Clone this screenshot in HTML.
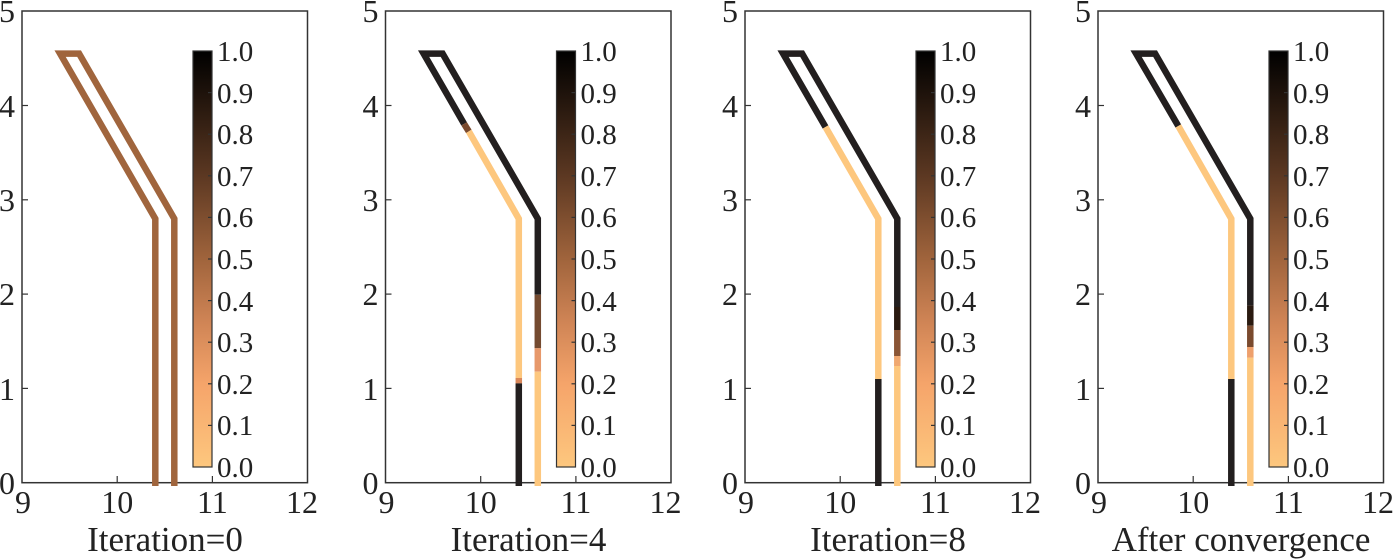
<!DOCTYPE html>
<html><head><meta charset="utf-8"><style>
html,body{margin:0;padding:0;background:#fff;}
svg{display:block;}
text{font-family:"Liberation Serif","Times New Roman","DejaVu Serif",serif;}
</style></head><body>
<svg width="1399" height="559" viewBox="0 0 1399 559" xmlns="http://www.w3.org/2000/svg" font-family="Liberation Serif, Times New Roman, DejaVu Serif, serif">
<defs>
<linearGradient id="cb" x1="0" y1="1" x2="0" y2="0">
<stop offset="0" stop-color="#fdc77e"/>
<stop offset="0.2" stop-color="#f5a46a"/>
<stop offset="0.35" stop-color="#cf8455"/>
<stop offset="0.5" stop-color="#a0643c"/>
<stop offset="0.7" stop-color="#5c3822"/>
<stop offset="0.88" stop-color="#24160d"/>
<stop offset="1" stop-color="#000"/>
</linearGradient>
<g id="axes">
<rect x="0" y="11" width="285.5" height="471.7" fill="none" stroke="#333" stroke-width="1.5"/>
<g stroke="#333" stroke-width="1.2">
<line x1="95.2" y1="482.7" x2="95.2" y2="476"/><line x1="190.4" y1="482.7" x2="190.4" y2="476"/>
<line x1="0" y1="105.5" x2="6" y2="105.5"/><line x1="0" y1="199.8" x2="6" y2="199.8"/><line x1="0" y1="294.1" x2="6" y2="294.1"/><line x1="0" y1="388.4" x2="6" y2="388.4"/>
</g>
<g font-size="32" fill="#222" text-anchor="end" font-family="Liberation Serif, Times New Roman, serif">
<text x="-7" y="22">5</text><text x="-7" y="117">4</text><text x="-7" y="211">3</text><text x="-7" y="305">2</text><text x="-7" y="400">1</text><text x="-7" y="494">0</text>
</g>
<g font-size="32" fill="#222" text-anchor="middle" font-family="Liberation Serif, Times New Roman, serif">
<text x="1" y="513">9</text><text x="95.2" y="513">10</text><text x="190.4" y="513">11</text><text x="280" y="513">12</text>
</g>
<rect x="171" y="51" width="19" height="416" fill="url(#cb)" stroke="#333" stroke-width="1.2"/>
<g stroke="#333" stroke-width="1.2">
<line x1="186" y1="92.6" x2="190" y2="92.6"/><line x1="186" y1="134.2" x2="190" y2="134.2"/><line x1="186" y1="175.8" x2="190" y2="175.8"/><line x1="186" y1="217.4" x2="190" y2="217.4"/><line x1="186" y1="259" x2="190" y2="259"/><line x1="186" y1="300.6" x2="190" y2="300.6"/><line x1="186" y1="342.2" x2="190" y2="342.2"/><line x1="186" y1="383.8" x2="190" y2="383.8"/><line x1="186" y1="425.4" x2="190" y2="425.4"/>
</g>
<g font-size="29" fill="#222" font-family="Liberation Serif, Times New Roman, serif">
<text x="195" y="61">1.0</text><text x="195" y="103">0.9</text><text x="195" y="144">0.8</text><text x="195" y="186">0.7</text><text x="195" y="227">0.6</text><text x="195" y="269">0.5</text><text x="195" y="311">0.4</text><text x="195" y="352">0.3</text><text x="195" y="394">0.2</text><text x="195" y="435">0.1</text><text x="195" y="477">0.0</text>
</g>
</g>
</defs>

<!-- Panel 1 -->
<g transform="translate(22,0)">
<use href="#axes"/>
<polyline points="133.3,486 133.3,218.7 38.1,53.6 57.1,53.6 152.3,218.7 152.3,486" fill="none" stroke="#a0653d" stroke-width="6.5"/>
<text x="143" y="551" font-size="35" fill="#222" text-anchor="middle" font-family="Liberation Serif, Times New Roman, serif">Iteration=0</text>
</g>

<!-- Panel 2 -->
<g transform="translate(385.5,0)">
<use href="#axes"/>
<g fill="none" stroke-width="6.5">
<polyline points="78.6,123.9 38.1,53.6 57.1,53.6 152.3,218.7 152.3,294.8" stroke="#231f1f"/>
<line x1="78.6" y1="123.9" x2="83.3" y2="131.4" stroke="#7a4a2e"/>
<polyline points="83.3,131.4 133.3,218.7 133.3,378" stroke="#fdc77e"/>
<line x1="133.3" y1="378" x2="133.3" y2="383.4" stroke="#d9875a"/>
<line x1="133.3" y1="383.4" x2="133.3" y2="486" stroke="#231f1f"/>
<line x1="152.3" y1="294.8" x2="152.3" y2="348.2" stroke="#744a30"/>
<line x1="152.3" y1="348.2" x2="152.3" y2="371.7" stroke="#e7986a"/>
<line x1="152.3" y1="371.7" x2="152.3" y2="486" stroke="#fdc77e"/>
</g>
<text x="143" y="551" font-size="35" fill="#222" text-anchor="middle" font-family="Liberation Serif, Times New Roman, serif">Iteration=4</text>
</g>

<!-- Panel 3 -->
<g transform="translate(745,0)">
<use href="#axes"/>
<g fill="none" stroke-width="6.5">
<polyline points="80.5,127 38.1,53.6 57.1,53.6 152.3,218.7 152.3,307" stroke="#231f1f"/>
<polyline points="80.5,127 133.3,218.7 133.3,379" stroke="#fdc77e"/>
<line x1="133.3" y1="379" x2="133.3" y2="486" stroke="#231f1f"/>
<line x1="152.3" y1="307" x2="152.3" y2="330" stroke="#2a1a10"/>
<line x1="152.3" y1="330" x2="152.3" y2="356" stroke="#8a5535"/>
<line x1="152.3" y1="356" x2="152.3" y2="366" stroke="#f0a870"/>
<line x1="152.3" y1="366" x2="152.3" y2="486" stroke="#fdc77e"/>
</g>
<text x="143" y="551" font-size="35" fill="#222" text-anchor="middle" font-family="Liberation Serif, Times New Roman, serif">Iteration=8</text>
</g>

<!-- Panel 4 -->
<g transform="translate(1098,0)">
<use href="#axes"/>
<g fill="none" stroke-width="6.5">
<polyline points="80.3,126 38.1,53.6 57.1,53.6 152.3,218.7 152.3,305.4" stroke="#231f1f"/>
<polyline points="80.3,126 133.3,218.7 133.3,379" stroke="#fdc77e"/>
<line x1="133.3" y1="379" x2="133.3" y2="486" stroke="#231f1f"/>
<line x1="152.3" y1="305.4" x2="152.3" y2="325.7" stroke="#2a1a10"/>
<line x1="152.3" y1="325.7" x2="152.3" y2="347" stroke="#7a4a2e"/>
<line x1="152.3" y1="347" x2="152.3" y2="357.8" stroke="#eea06c"/>
<line x1="152.3" y1="357.8" x2="152.3" y2="486" stroke="#fdc77e"/>
</g>
<text x="143" y="551" font-size="35" fill="#222" text-anchor="middle" font-family="Liberation Serif, Times New Roman, serif">After convergence</text>
</g>
</svg>
</body></html>
